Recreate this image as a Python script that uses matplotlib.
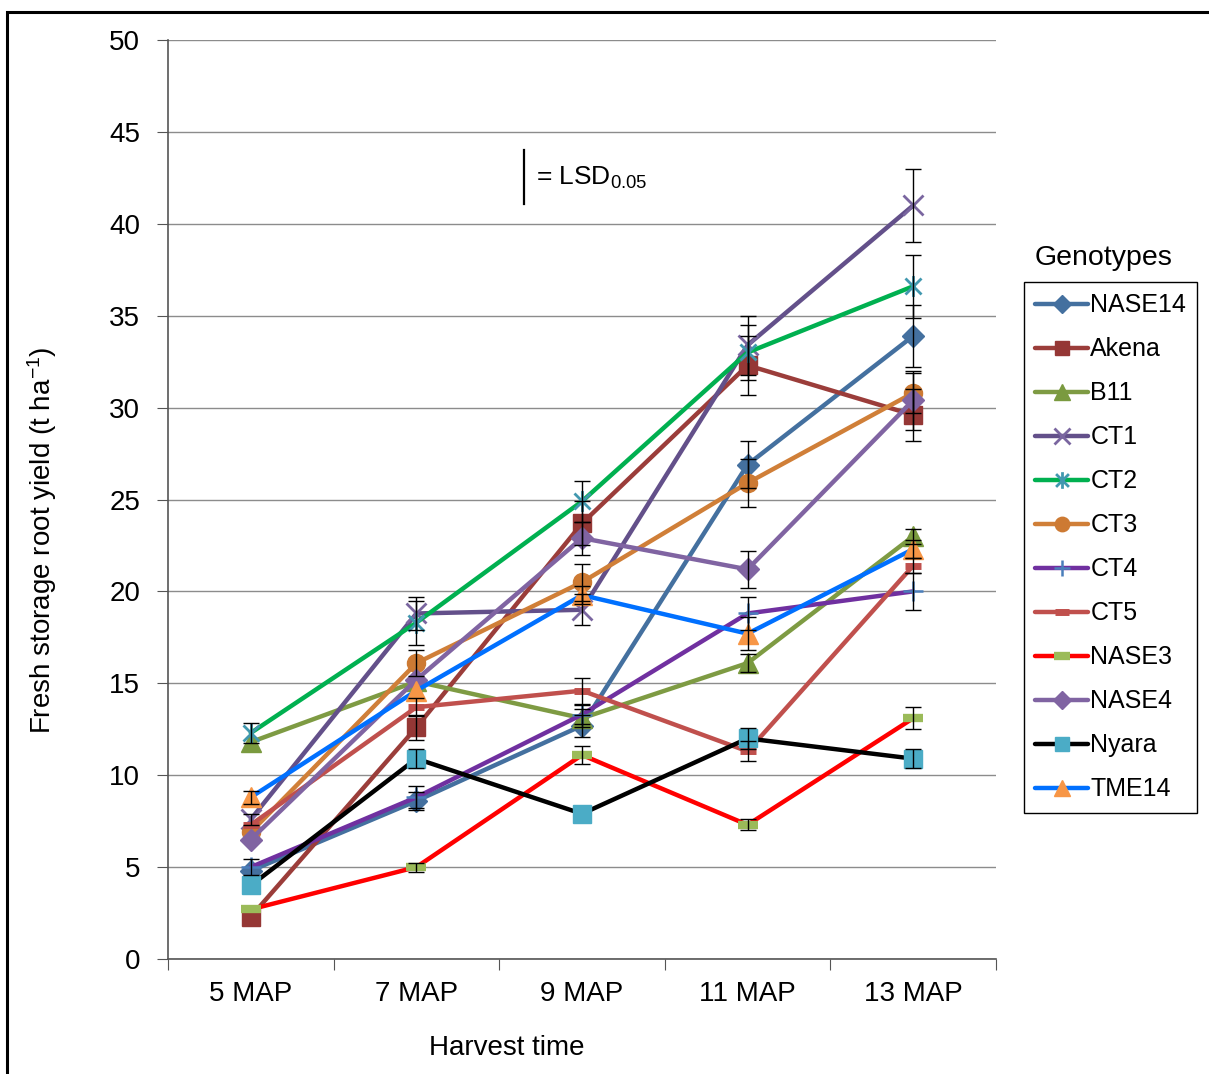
import numpy as np
import matplotlib
matplotlib.use("Agg")
import matplotlib.pyplot as plt
from matplotlib.path import Path
from matplotlib.patches import Rectangle

plt.rcParams["font.family"] = ["Liberation Sans", "DejaVu Sans"]
plt.rcParams["mathtext.default"] = "regular"

# --- data: fresh storage root yield (t/ha) per genotype and harvest time ---
harvest = ["5 MAP", "7 MAP", "9 MAP", "11 MAP", "13 MAP"]

nase14 = [4.8, 8.6, 12.7, 26.9, 33.9]
akena = [2.3, 12.6, 23.7, 32.3, 29.6]
b11 = [11.8, 15.1, 13.1, 16.1, 23.0]
ct1 = [7.6, 18.8, 19.0, 33.4, 41.0]
ct2 = [12.3, 18.3, 24.9, 33.0, 36.6]
ct3 = [6.9, 16.1, 20.5, 25.9, 30.8]
ct4 = [5.0, 8.8, 13.3, 18.8, 20.0]
ct5 = [7.3, 13.7, 14.6, 11.3, 21.4]
nase3 = [2.7, 5.0, 11.1, 7.3, 13.1]
nase4 = [6.5, 15.2, 22.9, 21.2, 30.4]
nyara = [4.0, 10.9, 7.9, 12.0, 10.9]
tme14 = [8.8, 14.6, 19.8, 17.7, 22.3]

# half-width of the error bars (0 = no bar drawn)
err_nase14 = [0, 0.5, 0.6, 1.3, 1.7]
err_akena = [0, 0.7, 1.2, 1.6, 1.4]
err_b11 = [0, 0, 0.5, 0.5, 0.4]
err_ct1 = [0.3, 0.9, 0.85, 1.6, 2.0]
err_ct2 = [0.55, 1.2, 1.1, 1.5, 1.7]
err_ct3 = [0, 0.7, 1.0, 1.3, 1.1]
err_ct4 = [0.45, 0.6, 0.5, 0.9, 1.0]
err_ct5 = [0, 0.5, 0.7, 0.55, 0.4]
err_nase3 = [0, 0.25, 0.5, 0.3, 0.6]
err_nase4 = [0, 0, 0.9, 1.0, 1.6]
err_nyara = [0, 0.5, 0, 0.55, 0.5]
err_tme14 = [0.35, 0, 0.5, 0.9, 0.5]

# asterisk marker (x plus vertical stroke)
asterisk = Path(
    [(-1, -1), (1, 1), (-1, 1), (1, -1), (0, -1.3), (0, 1.3)],
    [Path.MOVETO, Path.LINETO, Path.MOVETO, Path.LINETO, Path.MOVETO, Path.LINETO],
)

# name, values, errors, line colour, marker, marker colour, marker size, edge width
series = [
    ("NASE14", nase14, err_nase14, "#44709F", "D", "#44709F", 11, 1),
    ("Akena", akena, err_akena, "#9B3D3A", "s", "#953735", 13, 1),
    ("B11", b11, err_b11, "#7E9B43", "^", "#7A9A3F", 14, 1),
    ("CT1", ct1, err_ct1, "#63508A", "x", "#7A66A0", 14, 2),
    ("CT2", ct2, err_ct2, "#00B050", asterisk, "#4198AF", 15, 2),
    ("CT3", ct3, err_ct3, "#D07F38", "o", "#CD7A33", 13, 1),
    ("CT4", ct4, err_ct4, "#7030A0", "+", "#4A7EBB", 15, 1.8),
    ("CT5", ct5, err_ct5, "#C0504D", "_", "#C0504D", 12, 5),
    ("NASE3", nase3, err_nase3, "#FF0000", "_", "#9BBB59", 14, 6),
    ("NASE4", nase4, err_nase4, "#8064A2", "D", "#8064A2", 11, 1),
    ("Nyara", nyara, err_nyara, "#000000", "s", "#4BACC6", 13, 1),
    ("TME14", tme14, err_tme14, "#0070FF", "^", "#F79646", 14, 1),
]

x = np.arange(len(harvest)) + 0.5

fig = plt.figure(figsize=(12.09, 10.74), dpi=100)
ax = fig.add_axes([168 / 1209, 1 - 959 / 1074, 828 / 1209, 919 / 1074])

handles = []
for name, vals, err, lc, mk, mc, ms, mew in series:
    h, = ax.plot(x, vals, color=lc, lw=3.2, marker=mk, markersize=ms,
                 markerfacecolor=mc, markeredgecolor=mc, markeredgewidth=mew,
                 label=name, solid_capstyle="round")
    handles.append(h)
    vals = np.array(vals)
    err = np.array(err)
    keep = err > 0
    ax.errorbar(x[keep], vals[keep], yerr=err[keep], fmt="none", ecolor="black",
                elinewidth=1, capsize=5.5, capthick=1, zorder=5)

# axes styling
ax.set_xlim(0, 5)
ax.set_ylim(0, 50)
ax.set_yticks(np.arange(0, 51, 5))
ax.set_xticks(np.arange(0, 6))
ax.set_xticklabels([])
ax.set_xticks(x, minor=True)
ax.set_xticklabels(harvest, minor=True)
ax.tick_params(axis="x", which="major", length=8, direction="out", color="#555555")
ax.tick_params(axis="x", which="minor", length=0, pad=16, labelsize=20)
ax.tick_params(axis="y", length=8, direction="out", color="#555555", pad=12, labelsize=20)
ax.grid(axis="y", color="#8C8C8C", lw=1)
ax.set_axisbelow(True)
for side in ["top", "right"]:
    ax.spines[side].set_visible(False)
for side in ["left", "bottom"]:
    ax.spines[side].set_color("#555555")
    ax.spines[side].set_linewidth(1.2)

# LSD key
ax.plot([2.15, 2.15], [41.1, 44.0], color="black", lw=1.6, clip_on=False)
ax.text(2.22, 42.5, "= LSD$_{0.05}$", fontsize=19, va="center", ha="left")

# axis titles
fig.text(42 / 1209, 1 - 540 / 1074, "Fresh storage root yield (t ha$^{-1}$)",
         rotation=90, ha="center", va="center", fontsize=20)
fig.text(507 / 1209, 1 - 1048 / 1074, "Harvest time", ha="center", va="center", fontsize=20)

# legend with its title above the box
fig.text(1104 / 1209, 1 - 258 / 1074, "Genotypes", ha="center", va="center", fontsize=20.5)
leg = fig.legend(handles=handles, loc="upper left",
                 bbox_to_anchor=(1024 / 1209, 1 - 282 / 1074), fontsize=18,
                 frameon=True, fancybox=False, edgecolor="black", framealpha=1,
                 borderaxespad=0, handlelength=2.1, handletextpad=0.1,
                 labelspacing=0.8, borderpad=0.45, markerscale=0.8)
leg.get_frame().set_linewidth(1)

# outer frame
fig.patches.append(Rectangle((7 / 1209, -0.05), 1.1, 1.05 - 12 / 1074,
                             transform=fig.transFigure, fill=False,
                             edgecolor="black", lw=2.2))

fig.savefig("out.png", dpi=100)
